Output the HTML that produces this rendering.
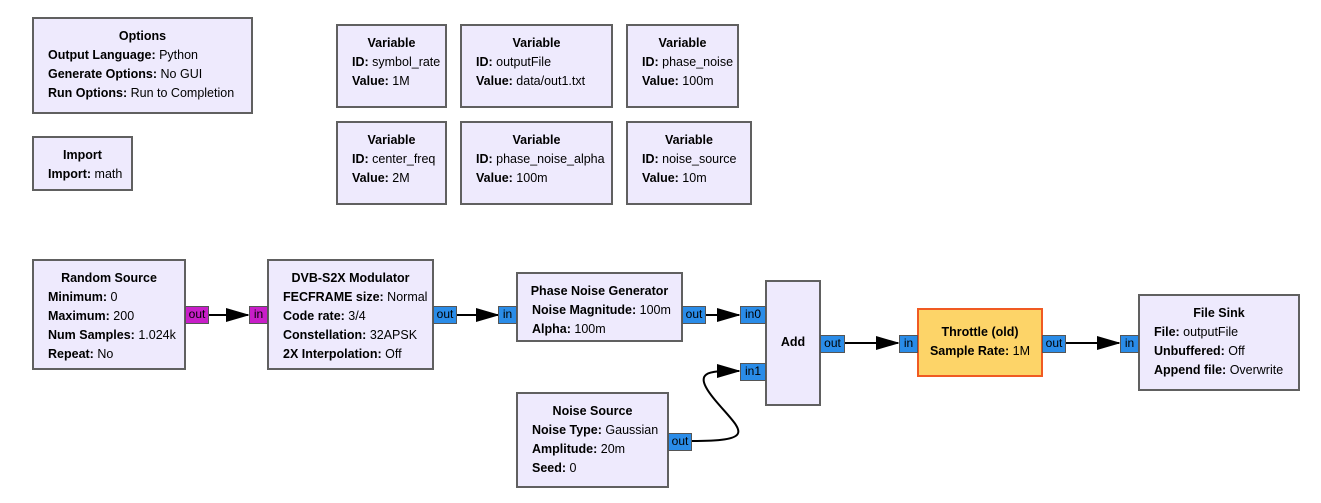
<!DOCTYPE html>
<html><head><style>
body{margin:0;width:1321px;height:503px;background:#fff;position:relative;font-family:"Liberation Sans",Arial,sans-serif;font-size:12.5px;color:#000;overflow:hidden}
.b{position:absolute;background:#eeeafd;border:2px solid #606060;box-sizing:border-box;padding-left:14px;line-height:19px;white-space:nowrap}
.b .t{font-weight:bold;text-align:center;margin-left:-14px;margin-top:8px;font-size:12.5px}
.b.c{padding-left:0;text-align:center}
.b.c .t{margin-left:0}
.p{position:absolute;box-sizing:border-box;border:1px solid #555;font-size:12px;line-height:15px;text-align:center;color:#000}
.pu{background:#c81ec8}
.bl{background:#2a8ce8}
b{font-weight:bold}
</style></head><body>
<svg width="1321" height="503" style="position:absolute;left:0;top:0">
<defs><marker id="a" markerWidth="24" markerHeight="14" refX="22" refY="7" orient="auto" markerUnits="userSpaceOnUse"><path d="M0,0L24,7L0,14z" fill="#000"/></marker></defs>
<g stroke="#000" stroke-width="2" fill="none" marker-end="url(#a)">
<path d="M209,315H248"/>
<path d="M457,315H498"/>
<path d="M706,315H739"/>
<path d="M845,343H898"/>
<path d="M1066,343H1119"/>
<path d="M692,441C760,441 740,430 715,400C690,370 710,371 739,371"/>
</g></svg>

<div class="b" style="left:32px;top:17px;width:221px;height:97px"><div class="t">Options</div><b>Output Language:</b> Python<br><b>Generate Options:</b> No GUI<br><b>Run Options:</b> Run to Completion</div>
<div class="b" style="left:32px;top:136px;width:101px;height:55px"><div class="t">Import</div><b>Import:</b> math</div>

<div class="b" style="left:336px;top:24px;width:111px;height:84px"><div class="t">Variable</div><b>ID:</b> symbol_rate<br><b>Value:</b> 1M</div>
<div class="b" style="left:460px;top:24px;width:153px;height:84px"><div class="t">Variable</div><b>ID:</b> outputFile<br><b>Value:</b> data/out1.txt</div>
<div class="b" style="left:626px;top:24px;width:113px;height:84px"><div class="t">Variable</div><b>ID:</b> phase_noise<br><b>Value:</b> 100m</div>
<div class="b" style="left:336px;top:121px;width:111px;height:84px"><div class="t">Variable</div><b>ID:</b> center_freq<br><b>Value:</b> 2M</div>
<div class="b" style="left:460px;top:121px;width:153px;height:84px"><div class="t">Variable</div><b>ID:</b> phase_noise_alpha<br><b>Value:</b> 100m</div>
<div class="b" style="left:626px;top:121px;width:126px;height:84px"><div class="t">Variable</div><b>ID:</b> noise_source<br><b>Value:</b> 10m</div>

<div class="b" style="left:32px;top:259px;width:154px;height:111px"><div class="t">Random Source</div><b>Minimum:</b> 0<br><b>Maximum:</b> 200<br><b>Num Samples:</b> 1.024k<br><b>Repeat:</b> No</div>
<div class="b" style="left:267px;top:259px;width:167px;height:111px"><div class="t">DVB-S2X Modulator</div><b>FECFRAME size:</b> Normal<br><b>Code rate:</b> 3/4<br><b>Constellation:</b> 32APSK<br><b>2X Interpolation:</b> Off</div>
<div class="b" style="left:516px;top:272px;width:167px;height:70px"><div class="t">Phase Noise Generator</div><b>Noise Magnitude:</b> 100m<br><b>Alpha:</b> 100m</div>
<div class="b c" style="left:765px;top:280px;width:56px;height:126px"><div class="t" style="margin-top:51px">Add</div></div>
<div class="b" style="left:516px;top:392px;width:153px;height:96px"><div class="t">Noise Source</div><b>Noise Type:</b> Gaussian<br><b>Amplitude:</b> 20m<br><b>Seed:</b> 0</div>
<div class="b c" style="left:917px;top:308px;width:126px;height:69px;background:#fdd468;border-color:#f05a22"><div class="t" style="margin-top:13px">Throttle (old)</div><b>Sample Rate:</b> 1M</div>
<div class="b" style="left:1138px;top:294px;width:162px;height:97px"><div class="t">File Sink</div><b>File:</b> outputFile<br><b>Unbuffered:</b> Off<br><b>Append file:</b> Overwrite</div>

<div class="p pu" style="left:185px;top:306px;width:24px;height:18px">out</div>
<div class="p pu" style="left:249px;top:306px;width:19px;height:18px">in</div>
<div class="p bl" style="left:433px;top:306px;width:24px;height:18px">out</div>
<div class="p bl" style="left:498px;top:306px;width:19px;height:18px">in</div>
<div class="p bl" style="left:682px;top:306px;width:24px;height:18px">out</div>
<div class="p bl" style="left:740px;top:306px;width:26px;height:18px">in0</div>
<div class="p bl" style="left:740px;top:363px;width:26px;height:18px">in1</div>
<div class="p bl" style="left:820px;top:335px;width:25px;height:18px">out</div>
<div class="p bl" style="left:668px;top:433px;width:24px;height:18px">out</div>
<div class="p bl" style="left:899px;top:335px;width:19px;height:18px">in</div>
<div class="p bl" style="left:1042px;top:335px;width:24px;height:18px">out</div>
<div class="p bl" style="left:1120px;top:335px;width:19px;height:18px">in</div>
</body></html>
